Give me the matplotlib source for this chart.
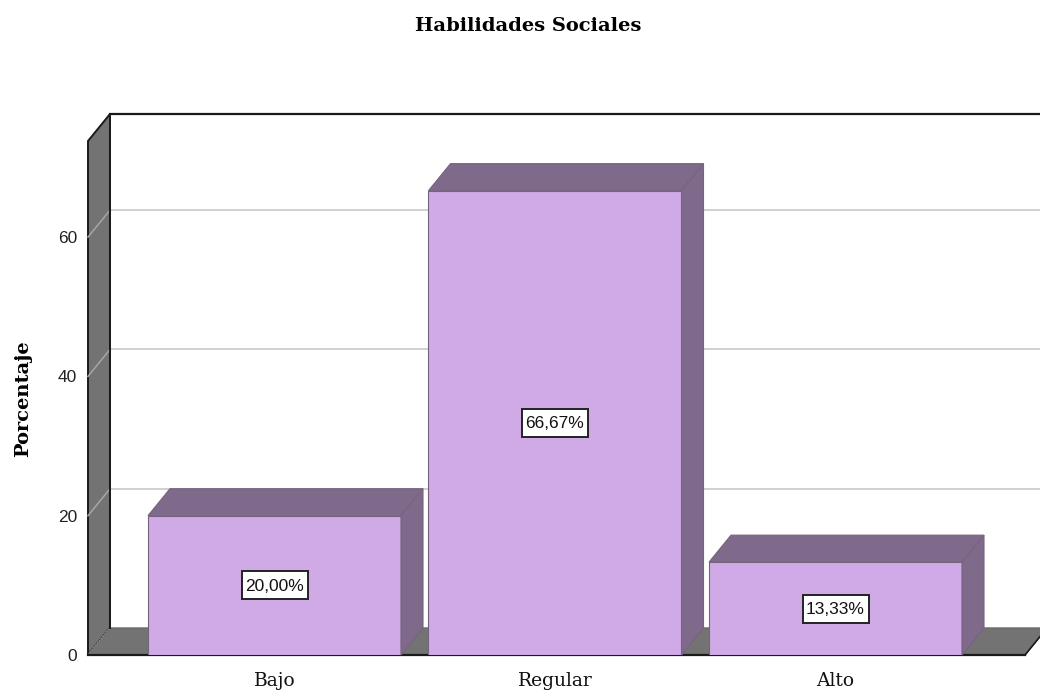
import matplotlib
matplotlib.use("Agg")
import matplotlib.pyplot as plt
from matplotlib.patches import Polygon, Rectangle

plt.rcParams['font.family'] = ['DejaVu Serif']

categorias = ["Bajo", "Regular", "Alto"]
porcentajes = [20.00, 66.67, 13.33]
etiquetas = ["20,00%", "66,67%", "13,33%"]
ticks_y = [0, 20, 40, 60]

W, H = 1040, 691
fig = plt.figure(figsize=(W / 100, H / 100), dpi=100)

# ejes = plano frontal del grafico 3D, en pixeles de la imagen
px_izq, px_der, px_cero, px_techo = 88, 1025, 655, 141
ax = fig.add_axes([px_izq / W, 1 - px_cero / H, (px_der - px_izq) / W, (px_cero - px_techo) / H])

paso = 280.5
centro0 = 274.5
ax.set_xlim((px_izq - centro0) / paso, (px_der - centro0) / paso)
esc_y = 6.965
ax.set_ylim(0, (px_cero - px_techo) / esc_y)
x0, x1 = ax.get_xlim()
y1 = ax.get_ylim()[1]

# profundidad
dx = 22 / paso
dy = 27 / esc_y
ancho = 0.902

gris = "#737373"
front = "#cfaae6"
lado = "#7f6a8c"
borde = "#76647f"


def poli(puntos, color, edge, lw=1.0, z=1):
    ax.add_patch(Polygon(puntos, closed=True, facecolor=color, edgecolor=edge,
                         linewidth=lw, clip_on=False, zorder=z))


# pared izquierda y suelo
poli([(x0, 0), (x0 + dx, dy), (x0 + dx, y1 + dy), (x0, y1)], gris, "#1a1a1a", 1.4, 1)
poli([(x0, 0), (x1, 0), (x1 + dx, dy), (x0 + dx, dy)], gris, "#6a6a6a", 1.0, 1)
ax.plot([x0, x1], [0, 0], color="#1a1a1a", lw=1.6, clip_on=False, zorder=2)
ax.plot([x1, x1 + dx], [0, dy], color="#1a1a1a", lw=1.2, clip_on=False, zorder=2)
ax.plot([x0 + dx, x1 + dx], [y1 + dy, y1 + dy], color="#1a1a1a", lw=1.6, clip_on=False, zorder=2)
ax.plot([x0 + dx, x0 + dx], [dy, y1 + dy], color="#1a1a1a", lw=1.4, clip_on=False, zorder=2)

# rejilla
for t in ticks_y[1:]:
    ax.plot([x0 + dx, x1 + dx], [t + dy, t + dy], color="#c8c8c8", lw=1.2,
            clip_on=False, zorder=1.5)
    ax.plot([x0, x0 + dx], [t, t + dy], color="#a6a6a6", lw=1.1, clip_on=False, zorder=1.5)
ax.plot([x0, x0 + dx], [0, dy], color="#a0a0a0", lw=0.8, ls=":", clip_on=False, zorder=1.5)

# barras
pos = list(range(len(categorias)))
ax.bar(pos, porcentajes, width=ancho, color=front, edgecolor=borde, linewidth=0.8, zorder=3)
for p, v, e in zip(pos, porcentajes, etiquetas):
    a, b = p - ancho / 2, p + ancho / 2
    poli([(a, v), (b, v), (b + dx, v + dy), (a + dx, v + dy)], lado, borde, 0.8, 3)
    poli([(b, 0), (b + dx, dy), (b + dx, v + dy), (b, v)], lado, borde, 0.8, 3)
    # caja de la etiqueta: 66x28 px
    ax.add_patch(Rectangle((p - 33 / paso, v / 2 - 14 / esc_y), 66 / paso, 28 / esc_y,
                           facecolor="white", edgecolor="#222222", linewidth=1.4, zorder=4))
    ax.text(p, v / 2 - 0.1, e, ha="center", va="center", family=["Liberation Sans"], fontsize=12.5,
            color="#111111", zorder=5)

for s in ax.spines.values():
    s.set_visible(False)
ax.patch.set_visible(False)
ax.set_yticks(ticks_y)
ax.set_yticklabels([str(t) for t in ticks_y], family=["Liberation Sans"], fontsize=12.5, color="#222222")
ax.set_xticks(pos)
ax.set_xticklabels(categorias, fontsize=13.5, color="#111111")
ax.tick_params(axis="both", length=0)
ax.tick_params(axis="y", pad=8)
ax.tick_params(axis="x", pad=12)

fig.text(528 / W, 1 - 26 / H, "Habilidades Sociales", ha="center", va="center",
         fontsize=14, fontweight="bold")
fig.text(23 / W, 1 - 399 / H, "Porcentaje", ha="center", va="center", rotation=90,
         fontsize=14, fontweight="bold")

fig.savefig("out.png", dpi=100)
